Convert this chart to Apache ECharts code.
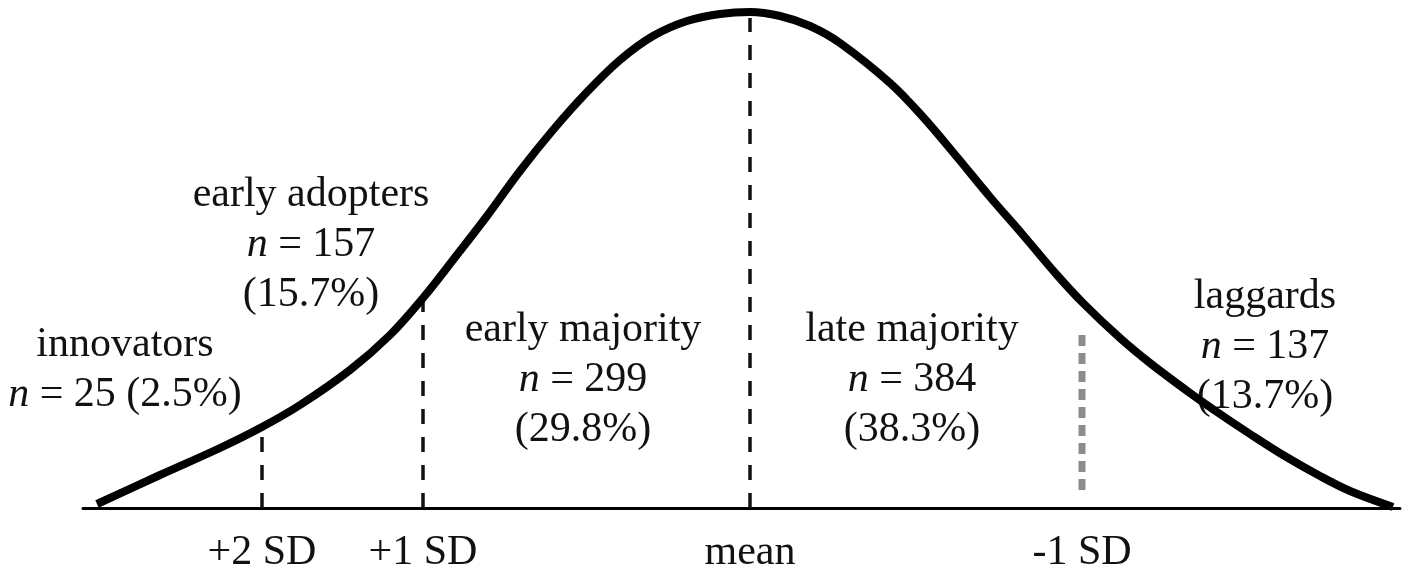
<!DOCTYPE html>
<html>
<head>
<meta charset="utf-8">
<script src="https://cdn.jsdelivr.net/npm/echarts@6/dist/echarts.min.js"></script>
<style>
  html, body { margin: 0; padding: 0; background: #fff; }
  #chart { width: 1406px; height: 582px; }
</style>
</head>
<body>
<div id="chart"></div>
<script>
// ---- data ----
// curve: horizontal position relative to the mean (arbitrary units) and curve height
const curveX = [-653, -590, -530, -488, -450, -400, -360, -327, -297, -263, -230, -197, -163, -130, -97, -63, -30, 0, 30, 60, 90, 140, 173, 207, 240, 273, 307, 333, 370, 400, 440, 467, 500, 533, 570, 600, 643];
const curveY = [4, 33, 60, 81, 103, 138, 173, 210, 248, 292, 337, 378, 416, 448, 472, 487, 494, 496, 492, 482, 465, 425, 391, 351, 311, 273, 233, 205, 170, 145, 115, 96, 74, 53, 32, 17, 1];

const sdLabels = ['+2 SD', '+1 SD', 'mean', '-1 SD'];
const sdPositions = [-488, -327, 0, 332];
const sdTop = [78, 213, 490, 178];
const sdBottom = [0, 0, 0, 18];

const groups = ['innovators', 'early adopters', 'early majority', 'late majority', 'laggards'];
const counts = [25, 157, 299, 384, 137];
const percents = ['2.5%', '15.7%', '29.8%', '38.3%', '13.7%'];

// ---- chart ----
const chart = echarts.init(document.getElementById('chart'));
const FONT = '"Liberation Serif", "Times New Roman", serif';
const FS = 42;

const curveData = curveX.map((x, i) => [x, curveY[i]]);

const series = [];
sdPositions.forEach((x, i) => {
  const gray = i === 3;
  series.push({
    type: 'line',
    data: [[x, sdBottom[i]], [x, sdTop[i]]],
    symbol: 'none',
    silent: true,
    z: 1,
    lineStyle: gray
      ? { color: '#8c8c8c', width: 7, type: [11, 7] }
      : { color: '#111', width: 3.5, type: [15, 13] }
  });
});
series.push({
  type: 'line',
  data: curveData,
  smooth: 0.35,
  symbol: 'none',
  z: 5,
  lineStyle: { color: '#000', width: 8 }
});

// label blocks: centre x, centre y of first line (pixels)
const layout = [
  { x: 125, y: 345, oneLine: true },
  { x: 311, y: 195 },
  { x: 583, y: 330 },
  { x: 912, y: 330 },
  { x: 1265, y: 297 }
];
const LH = 50;
const graphics = groups.map((name, i) => {
  const L = layout[i];
  const lines = L.oneLine
    ? [name, '{i|n} = ' + counts[i] + ' (' + percents[i] + ')']
    : [name, '{i|n} = ' + counts[i], '(' + percents[i] + ')'];
  return {
    type: 'text',
    x: L.x,
    y: L.y - LH / 2,
    silent: true,
    style: {
      text: lines.join('\n'),
      align: 'center',
      verticalAlign: 'top',
      font: FS + 'px ' + FONT,
      fill: '#111',
      lineHeight: LH,
      rich: {
        i: { fontStyle: 'italic', fontSize: FS, fontFamily: FONT, fill: '#111', lineHeight: LH }
      }
    }
  };
});

chart.setOption({
  animation: false,
  backgroundColor: '#fff',
  grid: { left: 83, right: 6, top: 8, bottom: 74 },
  xAxis: {
    type: 'value',
    min: -667,
    max: 650,
    splitLine: { show: false },
    axisTick: { show: false },
    axisLine: { show: true, onZero: false, lineStyle: { color: '#000', width: 3 } },
    axisLabel: {
      customValues: sdPositions,
      formatter: v => sdLabels[sdPositions.indexOf(v)] || '',
      color: '#111',
      fontFamily: FONT,
      fontSize: FS,
      margin: 24
    }
  },
  yAxis: { type: 'value', min: 0, max: 500, show: false, splitLine: { show: false } },
  series,
  graphic: graphics
});
</script>
</body>
</html>
